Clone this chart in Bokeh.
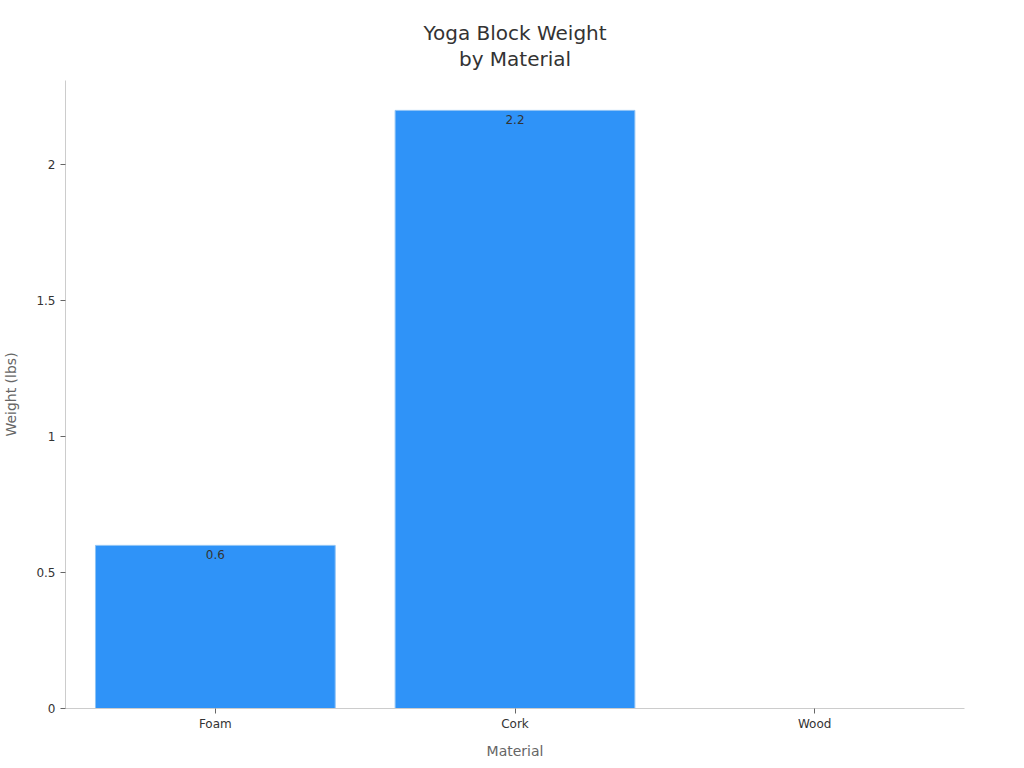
import math
from bokeh.plotting import figure
from bokeh.models import ColumnDataSource, Range1d, FactorRange, SingleIntervalTicker, CustomJSTickFormatter, Title
from bokeh.core.properties import value
from bokeh.embed import file_html
from bokeh.resources import INLINE

materials = ["Foam", "Cork", "Wood"]
weights = [0.6, 2.2, float("nan")]
title_lines = ["Yoga Block Weight", "by Material"]

FONT = "DejaVu Sans"

src = ColumnDataSource(dict(x=materials, top=weights))
lab_x = [m for m, w in zip(materials, weights) if not math.isnan(w)]
lab_y = [w for w in weights if not math.isnan(w)]
lab_t = [f"{w:g}" for w in lab_y]
lsrc = ColumnDataSource(dict(x=lab_x, y=lab_y, t=lab_t))

p = figure(
    x_range=FactorRange(*materials, range_padding=0),
    y_range=Range1d(0, 2.31),
    frame_width=899, frame_height=628,
    output_backend="svg", toolbar_location=None,
    min_border_left=64, min_border_right=53, min_border_top=80, min_border_bottom=52,
)
p.title = None
p.add_layout(Title(text=title_lines[1], align="center", text_font=FONT, text_font_size="20px",
                   text_color="#333333", text_font_style="normal", standoff=20), "above")
p.add_layout(Title(text=title_lines[0], align="center", text_font=FONT, text_font_size="20px",
                   text_color="#333333", text_font_style="normal", standoff=-20), "above")

p.vbar(x="x", top="top", width=0.8, source=src, fill_color="#2F93F8", line_color="#8EC3F5", line_width=1)
p.text(x="x", y="y", text="t", source=lsrc, text_align="center", text_baseline="top", y_offset=5,
       text_font=value(FONT), text_font_size="12px", text_color="#333333")

p.outline_line_color = None
p.xgrid.grid_line_color = None
p.ygrid.grid_line_color = None

p.yaxis.ticker = SingleIntervalTicker(interval=0.5)
p.yaxis.formatter = CustomJSTickFormatter(code="return String(Math.round(tick*10)/10);")
p.yaxis.minor_tick_line_color = None
for ax in (p.xaxis[0], p.yaxis[0]):
    ax.axis_line_color = "#cccccc"
    ax.major_tick_line_color = "#666666"
    ax.major_tick_out = 5
    ax.major_tick_in = 0
    ax.major_label_text_font = FONT
    ax.major_label_text_font_size = "12px"
    ax.major_label_text_color = "#333333"
    ax.axis_label_text_font = FONT
    ax.axis_label_text_font_size = "14px"
    ax.axis_label_text_color = "#666666"
    ax.axis_label_text_font_style = "normal"
p.xaxis.axis_label = "Material"
p.yaxis.axis_label = "Weight (lbs)"
p.xaxis.major_label_standoff = 3
p.xaxis.axis_label_standoff = 9
p.yaxis.axis_label_standoff = 14

open("out.html", "w").write(file_html(p, INLINE))
